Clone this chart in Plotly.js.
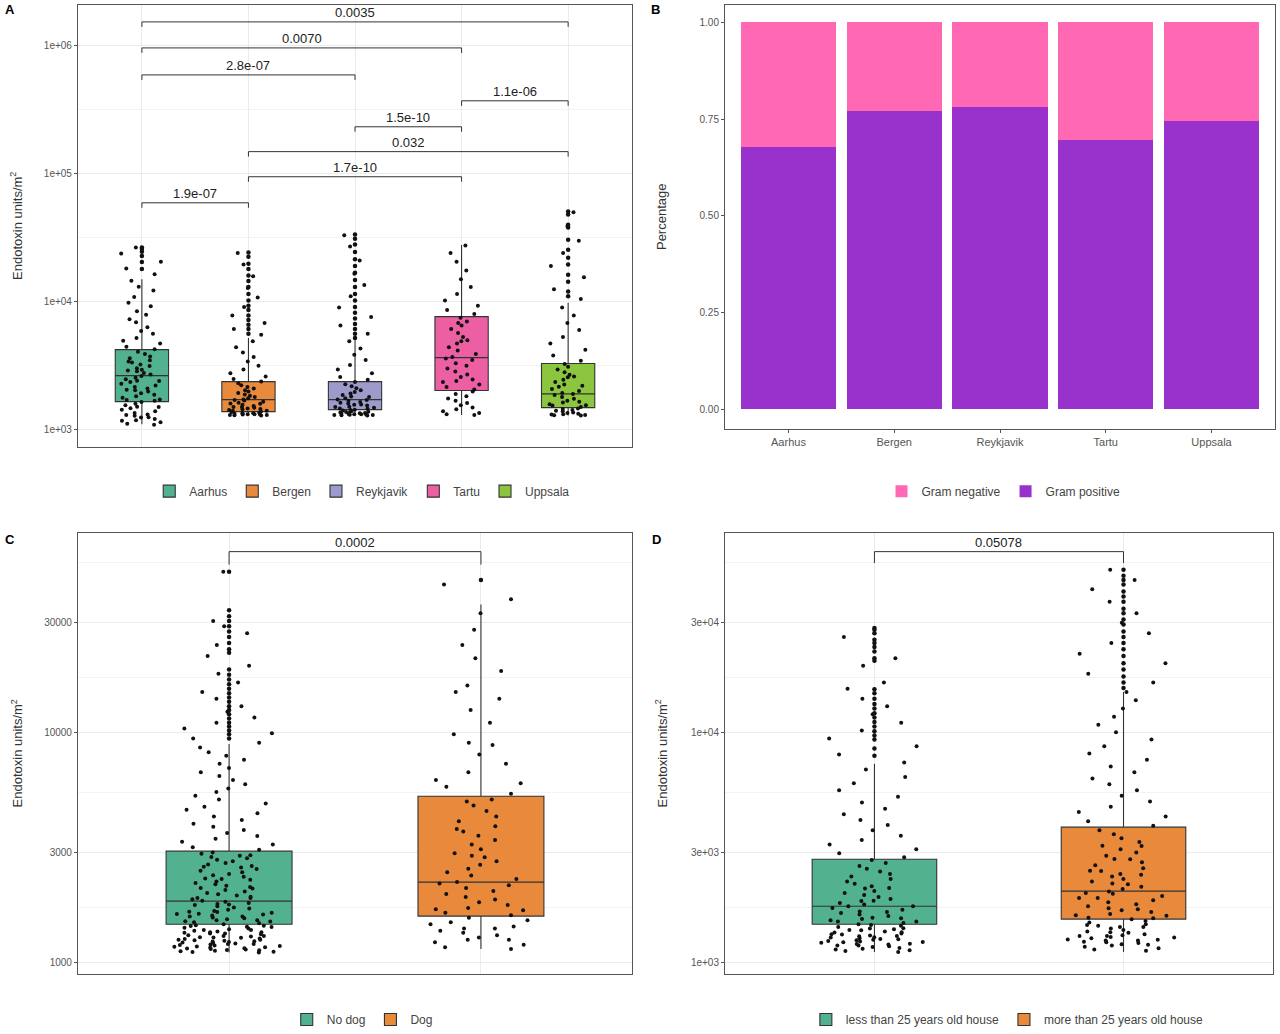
<!DOCTYPE html>
<html><head><meta charset="utf-8">
<script src="https://cdn.plot.ly/plotly-3.0.1.min.js"></script>
<style>html,body{margin:0;padding:0;background:#fff}#chart{width:1280px;height:1034px}</style>
</head><body><div id="chart"></div>
<script>
// ---------- Panel A: endotoxin by city ----------
const cities = ['Aarhus','Bergen','Reykjavik','Tartu','Uppsala'];
const cityQ1 = [1655, 1382, 1432, 2018, 1485];
const cityMedian = [2640, 1715, 1715, 3650, 1900];
const cityQ3 = [4217, 2371, 2371, 7640, 3281];
const cityLower = [1100, 1290, 1290, 1300, 1290];
const cityUpper = [15000, 5200, 5000, 27800, 9800];

const aarhusPts = [26500, 23800, 20500, 18200, 16400, 14600, 13100, 12200, 10900, 9800, 9200, 8400, 7900, 7300, 6900, 6300, 5900, 5600, 5200, 4950, 4700, 4450, 4250, 4050, 3900, 3720, 3610, 3480, 3350, 3220, 3140, 3020, 2930, 2860, 2770, 2690, 2620, 2540, 2470, 2410, 2350, 2280, 2210, 2150, 2090, 2030, 1980, 1920, 1870, 1820, 1770, 1720, 1680, 1640, 1590, 1550, 1510, 1470, 1430, 1390, 1350, 1310, 1280, 1240, 1210, 1170, 1140, 1110, 1090, 1700, 2050, 2400, 2900, 3400, 1500, 1300, 1250, 1180];
const aarhusOut = [26500, 25800, 24600, 22800, 20400, 18000];
const bergenPts = [24000, 19500, 15800, 12800, 10800, 9100, 7800, 6800, 6100, 5500, 4900, 4400, 4000, 3700, 3400, 3150, 2950, 2750, 2600, 2480, 2380, 2300, 2220, 2150, 2090, 2030, 1980, 1930, 1880, 1840, 1800, 1760, 1720, 1690, 1650, 1620, 1590, 1560, 1530, 1500, 1480, 1460, 1440, 1420, 1400, 1385, 1370, 1355, 1340, 1330, 1320, 1310, 1300, 1295, 1290, 1400, 1450, 1350, 1320, 1500, 1600, 1700, 1330, 1310, 1300];
const bergenOut = [24200, 22500, 19800, 18000, 16000, 14500, 13000, 11500, 10200, 9300, 8600, 7800, 7200, 6600, 6100, 5600];
const reykPts = [33000, 27000, 21000, 16500, 13500, 11000, 9000, 7600, 6500, 5600, 4900, 4300, 3850, 3500, 3200, 2950, 2750, 2580, 2450, 2350, 2260, 2180, 2100, 2030, 1970, 1910, 1860, 1810, 1760, 1720, 1680, 1640, 1600, 1570, 1540, 1510, 1480, 1455, 1430, 1410, 1390, 1370, 1350, 1335, 1320, 1305, 1295, 1290, 1300, 1320, 1350, 1380, 1420, 1460, 1500, 1560, 1620, 1700, 1800, 1320, 1300, 1310, 1340, 1360];
const reykOut = [33500, 31000, 28000, 24500, 21500, 19000, 16800, 14800, 13000, 11500, 10200, 9100, 8200, 7400, 6700, 6100, 5600, 5200];
const tartuPts = [27500, 24000, 20500, 17500, 15000, 13000, 11500, 10200, 9300, 8600, 8000, 7500, 7000, 6500, 6100, 5700, 5300, 5000, 4700, 4400, 4150, 3900, 3700, 3500, 3300, 3150, 3000, 2850, 2700, 2580, 2460, 2350, 2250, 2150, 2060, 1980, 1900, 1820, 1750, 1680, 1610, 1550, 1490, 1440, 1390, 1350, 1320, 1300, 6800, 4900, 3600, 2400];
const tartuOut = [];
const uppsalaPts = [50000, 39000, 30000, 24000, 19000, 15500, 12500, 10500, 9000, 7800, 6800, 6000, 5300, 4700, 4200, 3800, 3450, 3250, 3100, 2950, 2800, 2680, 2560, 2450, 2350, 2250, 2160, 2080, 2000, 1930, 1860, 1800, 1740, 1680, 1630, 1580, 1540, 1500, 1460, 1420, 1390, 1360, 1330, 1310, 1295, 1290, 1300, 1320, 1350, 1400, 1450, 1550, 1650, 1900, 2200, 2600];
const uppsalaOut = [50600, 48000, 40000, 38000, 30500, 25500, 22000, 19500, 16200, 14300, 12000, 11000];

const bracketAFrom = ['Aarhus','Aarhus','Aarhus','Tartu','Reykjavik','Bergen','Bergen','Aarhus'];
const bracketATo   = ['Uppsala','Tartu','Reykjavik','Uppsala','Tartu','Uppsala','Tartu','Bergen'];
const bracketAY    = [1.54e6, 9.64e5, 5.93e5, 3.72e5, 2.33e5, 1.49e5, 9.48e4, 5.93e4];
const bracketAP    = ['0.0035','0.0070','2.8e-07','1.1e-06','1.5e-10','0.032','1.7e-10','1.9e-07'];

// ---------- Panel B: Gram share ----------
const gramPositive = [0.678, 0.771, 0.781, 0.696, 0.745];
const gramNegative = [0.322, 0.229, 0.219, 0.304, 0.255];

// ---------- Panel C: dog ----------
const dogGroups = ['No dog','Dog'];
const dogQ1 = [1462, 1585];
const dogMedian = [1842, 2228];
const dogQ3 = [3040, 5270];
const dogLower = [1100, 1139];
const dogUpper = [8900, 36000];
const noDogPts = [50000, 30500, 29000, 27000, 24000, 21500, 19500, 18000, 16500, 15000, 14000, 13000, 12300, 11600, 11000, 10400, 9900, 9400, 9000, 8600, 8200, 7900, 7600, 7300, 7000, 6700, 6450, 6200, 5950, 5700, 5500, 5300, 5100, 4900, 4750, 4600, 4450, 4300, 4150, 4000, 3880, 3760, 3650, 3540, 3440, 3340, 3250, 3160, 3080, 3000, 2960, 2920, 2870, 2830, 2790, 2750, 2700, 2660, 2620, 2580, 2540, 2500, 2460, 2420, 2390, 2350, 2310, 2280, 2240, 2210, 2180, 2150, 2120, 2090, 2060, 2030, 2000, 1975, 1950, 1925, 1900, 1875, 1850, 1830, 1810, 1790, 1770, 1750, 1730, 1710, 1690, 1670, 1655, 1640, 1625, 1610, 1595, 1580, 1565, 1550, 1535, 1520, 1505, 1490, 1475, 1460, 1448, 1436, 1424, 1412, 1400, 1390, 1380, 1370, 1360, 1350, 1340, 1330, 1320, 1310, 1300, 1292, 1284, 1276, 1268, 1260, 1252, 1245, 1238, 1231, 1224, 1217, 1210, 1204, 1198, 1192, 1186, 1180, 1175, 1170, 1165, 1160, 1155, 1150, 1145, 1140, 1135, 1130, 1125, 1120, 1115, 1110, 1105, 1100, 1250, 1300, 1350, 1420, 1500, 1580, 1650, 1780, 1900, 2100, 2300, 2600, 2900, 1200, 1230, 1280, 1330, 1380, 1440, 1520, 1620];
const noDogOut = [50000, 34000, 32000, 30500, 29000, 27500, 26000, 24500, 23000, 22200, 18800, 17800, 17000, 16200, 15500, 14800, 14200, 13600, 13000, 12500, 12000, 11500, 11000, 10600, 10200, 9800, 9400];
const dogPts = [44000, 38000, 33000, 28000, 24000, 21000, 18500, 16000, 14000, 12500, 11000, 9800, 8800, 8000, 7300, 6700, 6200, 5800, 5400, 5100, 4800, 4550, 4300, 4100, 3900, 3700, 3550, 3400, 3250, 3100, 2980, 2860, 2750, 2650, 2550, 2460, 2380, 2300, 2230, 2160, 2100, 2040, 1980, 1920, 1870, 1820, 1770, 1720, 1680, 1640, 1600, 1560, 1520, 1490, 1460, 1430, 1400, 1370, 1340, 1310, 1280, 1250, 1220, 1190, 1160, 1140, 5000, 3800, 2900, 2200, 1700, 1400, 1250, 9000, 15000, 6000];
const dogOut = [46000];
const bracketCY = 61200;
const bracketCP = '0.0002';

// ---------- Panel D: house age ----------
const houseGroups = ['less than 25 years old house','more than 25 years old house'];
const houseQ1 = [1462, 1538];
const houseMedian = [1751, 2036];
const houseQ3 = [2804, 3866];
const houseLower = [1105, 1105];
const houseUpper = [7300, 15000];
const lessPts = [26000, 21000, 19500, 16500, 15500, 14000, 13000, 12000, 11000, 10200, 9400, 8700, 8000, 7400, 6900, 6400, 6000, 5600, 5250, 4950, 4650, 4400, 4150, 3950, 3750, 3550, 3400, 3250, 3100, 2980, 2860, 2780, 2700, 2620, 2550, 2480, 2420, 2360, 2300, 2240, 2190, 2140, 2090, 2040, 2000, 1960, 1920, 1880, 1845, 1810, 1780, 1750, 1720, 1690, 1660, 1635, 1610, 1585, 1560, 1540, 1520, 1500, 1480, 1460, 1440, 1420, 1405, 1390, 1375, 1360, 1345, 1330, 1318, 1306, 1294, 1282, 1270, 1258, 1246, 1235, 1224, 1213, 1202, 1192, 1182, 1172, 1162, 1152, 1143, 1134, 1125, 1116, 1105, 1300, 1250, 1350, 1200, 1400, 1280, 1230, 1500, 1650, 1850, 2100, 1180, 1220, 1260, 1320, 1380, 1450, 1550, 1750];
const lessOut = [28500, 28000, 27000, 25300, 24500, 23500, 22500, 21000, 20500, 15400, 14800, 14000, 13300, 12700, 12100, 11600, 11100, 10600, 10100, 9700, 9300, 8500, 7900];
const morePts = [51000, 46000, 42000, 37000, 33000, 30000, 27000, 24500, 22000, 20000, 18000, 16500, 15000, 13800, 12700, 11700, 10800, 10000, 9300, 8700, 8100, 7600, 7100, 6700, 6300, 5950, 5600, 5300, 5000, 4750, 4500, 4300, 4100, 3920, 3750, 3600, 3460, 3330, 3210, 3100, 3000, 2900, 2810, 2720, 2640, 2560, 2490, 2420, 2360, 2300, 2240, 2180, 2130, 2080, 2030, 1985, 1940, 1900, 1860, 1820, 1785, 1750, 1715, 1680, 1650, 1620, 1590, 1560, 1535, 1510, 1485, 1460, 1440, 1420, 1400, 1380, 1360, 1340, 1320, 1300, 1285, 1270, 1255, 1240, 1225, 1210, 1195, 1180, 1165, 1150, 1135, 1120, 1300, 1350, 1250, 1450, 1550, 1700, 1900, 2200, 2500, 2800, 3200, 1280, 1220, 1190, 1240, 1310, 1420, 1600, 2000, 2400];
const moreOut = [51000, 48000, 46000, 44000, 41000, 39000, 37000, 34500, 33000, 31000, 29500, 27500, 26000, 24500, 23000, 21500, 20000, 18800, 17500, 16500, 15600];
const bracketDY = 61200;
const bracketDP = '0.05078';

// ---------- styles ----------
const FONT = 'Liberation Sans, Arial, sans-serif';
const cityColors = ['#52B18E','#E8893C','#9C9BCB','#EC5FA3','#8CC63F'];
const dogColors = ['#52B18E','#E8893C'];
const posColor = '#9932CC', negColor = '#FF69B4';
const ptColor = '#111111';

const traces = [];

function addBoxGroup(cats, q1, med, q3, lo, hi, colors, pts, outs, xa, ya, leg) {
  cats.forEach((c, i) => {
    traces.push({
      type: 'box', name: c, x: [c], q1: [q1[i]], median: [med[i]], q3: [q3[i]],
      lowerfence: [lo[i]], upperfence: [hi[i]],
      fillcolor: colors[i], line: {color: '#333', width: 1.1}, whiskerwidth: 0,
      width: 0.5, boxpoints: false, xaxis: xa, yaxis: ya, legend: leg, hoverinfo: 'skip'
    });
  });
  cats.forEach((c, i) => {
    // jittered sample points: split into bands so Plotly's density-scaled jitter spreads each band fully
    const cuts = [-Infinity, q1[i], q3[i], hi[i], Infinity];
    for (let b = 0; b < 4; b++) {
      const band = pts[i].filter(v => v > cuts[b] && v <= cuts[b + 1]);
      if (!band.length) continue;
      traces.push({
        type: 'box', x: band.map(() => c), y: band, boxpoints: 'all', jitter: 0.92, pointpos: 0,
        width: 0.5, fillcolor: 'rgba(0,0,0,0)', line: {color: 'rgba(0,0,0,0)', width: 0},
        marker: {color: ptColor, size: 4}, showlegend: false, xaxis: xa, yaxis: ya, hoverinfo: 'skip'
      });
    }
    if (outs[i].length) traces.push({
      type: 'scatter', mode: 'markers', x: outs[i].map(() => c), y: outs[i],
      marker: {color: ptColor, size: 4.5}, showlegend: false, xaxis: xa, yaxis: ya, hoverinfo: 'skip'
    });
  });
}

addBoxGroup(cities, cityQ1, cityMedian, cityQ3, cityLower, cityUpper, cityColors,
  [aarhusPts, bergenPts, reykPts, tartuPts, uppsalaPts],
  [aarhusOut, bergenOut, reykOut, tartuOut, uppsalaOut], 'x', 'y', 'legend');

traces.push({type: 'bar', name: 'Gram positive', x: cities, y: gramPositive, marker: {color: posColor},
  width: 0.9, xaxis: 'x2', yaxis: 'y2', legend: 'legend2', hoverinfo: 'skip'});
traces.push({type: 'bar', name: 'Gram negative', x: cities, y: gramNegative, marker: {color: negColor},
  width: 0.9, xaxis: 'x2', yaxis: 'y2', legend: 'legend2', hoverinfo: 'skip'});

addBoxGroup(dogGroups, dogQ1, dogMedian, dogQ3, dogLower, dogUpper, dogColors,
  [noDogPts, dogPts], [noDogOut, dogOut], 'x3', 'y3', 'legend3');
addBoxGroup(houseGroups, houseQ1, houseMedian, houseQ3, houseLower, houseUpper, dogColors,
  [lessPts, morePts], [lessOut, moreOut], 'x4', 'y4', 'legend4');

// brackets
const annotations = [];
function bracket(c1, c2, yv, label, legFactor, xa, ya, cats) {
  traces.push({type: 'scatter', mode: 'lines', x: [c1, c1, c2, c2], y: [yv / legFactor, yv, yv, yv / legFactor],
    line: {color: '#333', width: 1}, showlegend: false, xaxis: xa, yaxis: ya, hoverinfo: 'skip'});
  annotations.push({xref: xa, yref: ya, x: (cats.indexOf(c1) + cats.indexOf(c2)) / 2, y: Math.log10(yv),
    text: label, showarrow: false, yanchor: 'bottom', yshift: 0, font: {size: 13, color: '#222', family: FONT}});
}
bracketAFrom.forEach((f, i) => bracket(f, bracketATo[i], bracketAY[i], bracketAP[i], 1.094, 'x', 'y', cities));
bracket(dogGroups[0], dogGroups[1], bracketCY, bracketCP, 1.139, 'x3', 'y3', dogGroups);
bracket(houseGroups[0], houseGroups[1], bracketDY, bracketDP, 1.12, 'x4', 'y4', houseGroups);

// panel letters
[['A', 0.002, 1.0], ['B', 0.507, 1.0], ['C', 0.002, 0.487], ['D', 0.508, 0.487]].forEach(l => {
  annotations.push({xref: 'paper', yref: 'paper', x: l[1], y: l[2], xanchor: 'left', yanchor: 'top',
    text: '<b>' + l[0] + '</b>', showarrow: false, font: {size: 13, color: '#000', family: FONT}});
});

const GRID = '#ebebeb', LINE = '#555';
const xBase = {type: 'category', showline: true, mirror: true, linecolor: LINE, linewidth: 1,
  showgrid: true, gridcolor: GRID, zeroline: false, fixedrange: true};
const yBase = {showline: true, mirror: true, linecolor: LINE, linewidth: 1, showgrid: true, gridcolor: GRID,
  zeroline: false, ticks: 'outside', ticklen: 3, tickcolor: LINE, tickfont: {size: 10, color: '#555', family: FONT}};
const ytitle = (t, s) => ({text: t, font: {size: 13, color: '#333', family: FONT}, standoff: s});
const legFont = {size: 12, color: '#444', family: FONT};

const layout = {
  width: 1280, height: 1034, margin: {l: 0, r: 0, t: 0, b: 0},
  paper_bgcolor: '#fff', plot_bgcolor: '#fff', font: {family: FONT, color: '#444'},
  boxmode: 'overlay', barmode: 'stack', hovermode: false,
  xaxis: Object.assign({}, xBase, {domain: [0.0609, 0.4938], anchor: 'y', categoryorder: 'array', categoryarray: cities,
    range: [-0.6, 4.6], showticklabels: false, ticks: ''}),
  yaxis: Object.assign({}, yBase, {domain: [0.5677, 0.9952], anchor: 'x', type: 'log', range: [2.867, 6.32],
    tickvals: [1e3, 1e4, 1e5, 1e6], ticktext: ['1e+03','1e+04','1e+05','1e+06'],
    minor: {tickvals: [3162, 31623, 316228], showgrid: true, gridcolor: '#f3f3f3', ticks: ''},
    title: ytitle('Endotoxin units/m<sup>2</sup>', 18)}),
  xaxis2: Object.assign({}, xBase, {domain: [0.5664, 0.9961], anchor: 'y2', categoryorder: 'array', categoryarray: cities,
    range: [-0.6, 4.6], showgrid: false, ticks: 'outside', ticklen: 3, tickcolor: LINE,
    tickfont: {size: 11, color: '#555', family: FONT}}),
  yaxis2: Object.assign({}, yBase, {domain: [0.5851, 0.9952], anchor: 'x2', range: [-0.05, 1.045], showgrid: false,
    tickvals: [0, 0.25, 0.5, 0.75, 1], ticktext: ['0.00','0.25','0.50','0.75','1.00'],
    title: ytitle('Percentage', 29)}),
  xaxis3: Object.assign({}, xBase, {domain: [0.0609, 0.4938], anchor: 'y3', categoryorder: 'array', categoryarray: dogGroups,
    range: [-0.6, 1.6], showticklabels: false, ticks: ''}),
  yaxis3: Object.assign({}, yBase, {domain: [0.0571, 0.4845], anchor: 'x3', type: 'log', range: [2.948, 4.87],
    tickvals: [1000, 3000, 10000, 30000], ticktext: ['1000','3000','10000','30000'],
    minor: {tickvals: [1732, 5477, 17320, 54772], showgrid: true, gridcolor: '#f3f3f3', ticks: ''},
    title: ytitle('Endotoxin units/m<sup>2</sup>', 18)}),
  xaxis4: Object.assign({}, xBase, {domain: [0.5664, 0.9945], anchor: 'y4', categoryorder: 'array', categoryarray: houseGroups,
    range: [-0.6, 1.6], showticklabels: false, ticks: ''}),
  yaxis4: Object.assign({}, yBase, {domain: [0.0571, 0.4845], anchor: 'x4', type: 'log', range: [2.948, 4.87],
    tickvals: [1000, 3000, 10000, 30000], ticktext: ['1e+03','3e+03','1e+04','3e+04'],
    minor: {tickvals: [1732, 5477, 17320, 54772], showgrid: true, gridcolor: '#f3f3f3', ticks: ''},
    title: ytitle('Endotoxin units/m<sup>2</sup>', 20)}),
  legend:  {orientation: 'h', x: 0.283, y: 0.525, xanchor: 'center', yanchor: 'middle', font: legFont},
  legend2: {orientation: 'h', x: 0.784, y: 0.525, xanchor: 'center', yanchor: 'middle', traceorder: 'reversed', font: legFont},
  legend3: {orientation: 'h', x: 0.283, y: 0.0135, xanchor: 'center', yanchor: 'middle', font: legFont},
  legend4: {orientation: 'h', x: 0.787, y: 0.0135, xanchor: 'center', yanchor: 'middle', font: legFont},
  annotations: annotations
};

Plotly.newPlot('chart', traces, layout, {staticPlot: true, displayModeBar: false});
</script>
</body></html>
